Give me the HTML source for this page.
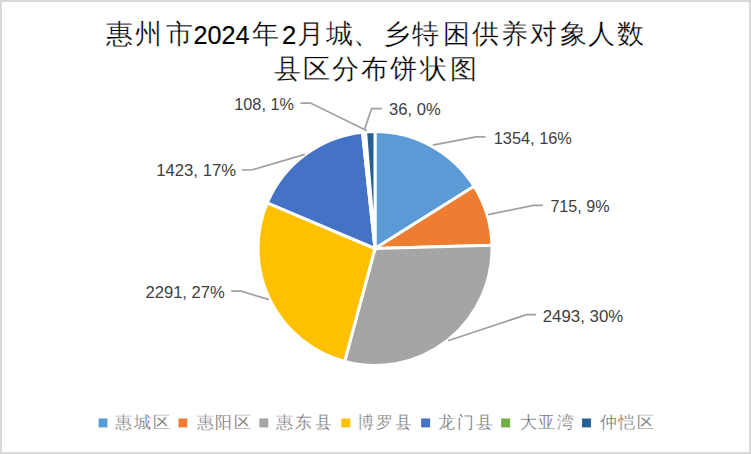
<!DOCTYPE html>
<html><head><meta charset="utf-8"><style>
html,body{margin:0;padding:0;background:#fff;}
svg{display:block;font-family:"Liberation Sans",sans-serif;}
</style></head><body>
<svg width="751" height="454" viewBox="0 0 751 454">
<rect x="0" y="0" width="751" height="454" fill="#fff"/>
<rect x="1" y="1" width="749" height="452" fill="none" stroke="#d9d9d9" stroke-width="2"/>
<g fill="#000" font-size="26.5" stroke="#fff" stroke-width="0.3">
<text x="106.3" y="42.6">惠</text>
<text x="134.8" y="42.6">州</text>
<text x="165.6" y="42.6">市</text>
<text x="252.4" y="42.6">年</text>
<text x="297.1" y="42.6">月</text>
<text x="326.1" y="42.6">城</text>
<text x="353.4" y="42.6">、</text>
<text x="382.6" y="42.6">乡</text>
<text x="412.4" y="42.6">特</text>
<text x="443.0" y="42.6">困</text>
<text x="471.6" y="42.6">供</text>
<text x="501.0" y="42.6">养</text>
<text x="529.6" y="42.6">对</text>
<text x="559.8" y="42.6">象</text>
<text x="588.4" y="42.6">人</text>
<text x="617.1" y="42.6">数</text>
<text x="273.5" y="77.6">县</text>
<text x="302.5" y="77.6">区</text>
<text x="332.0" y="77.6">分</text>
<text x="361.0" y="77.6">布</text>
<text x="390.0" y="77.6">饼</text>
<text x="420.0" y="77.6">状</text>
<text x="450.0" y="77.6">图</text>
</g>
<g fill="#000" font-size="25.6" stroke="#000" stroke-width="0.15">
<text x="193.4" y="43.5" textLength="56" lengthAdjust="spacingAndGlyphs">2024</text>
<text x="282" y="43.5">2</text>
</g>
<g stroke="#fff" stroke-width="3.0" stroke-linejoin="miter">
<path d="M375.0,248.5 L375.00,131.50 A117.0,117.0 0 0 1 474.10,186.31 Z" fill="#5B9BD5"/>
<path d="M375.0,248.5 L474.10,186.31 A117.0,117.0 0 0 1 491.96,245.36 Z" fill="#ED7D31"/>
<path d="M375.0,248.5 L491.96,245.36 A117.0,117.0 0 0 1 344.62,361.49 Z" fill="#A5A5A5"/>
<path d="M375.0,248.5 L344.62,361.49 A117.0,117.0 0 0 1 267.30,202.78 Z" fill="#FFC000"/>
<path d="M375.0,248.5 L267.30,202.78 A117.0,117.0 0 0 1 362.45,132.17 Z" fill="#4472C4"/>
<path d="M375.0,248.5 L362.45,132.17 A117.0,117.0 0 0 1 365.58,131.88 Z" fill="#70AD47"/>
<path d="M375.0,248.5 L365.58,131.88 A117.0,117.0 0 0 1 375.00,131.50 Z" fill="#255E91"/>
</g>
<g fill="none" stroke="#a0a0a0" stroke-width="1.7">
<polyline points="485.5,136.9 475.9,136.9 432.8,145.2"/>
<polyline points="542.8,205.3 533.2,205.3 488.0,214.7"/>
<polyline points="535.9,314.6 526.5,314.6 448.0,340.7"/>
<polyline points="231.2,291.2 241.0,291.2 268.9,299.6"/>
<polyline points="241.6,170.0 251.5,170.0 304.8,154.4"/>
<polyline points="300.5,103.1 310.5,103.1 367.0,130.8"/>
<polyline points="382.2,108.6 371.6,108.6 364.4,129.6"/>
</g>
<g fill="#404040" font-size="16.5">
<text x="493.7" y="144.0" textLength="78.2" lengthAdjust="spacingAndGlyphs">1354, 16%</text>
<text x="550.4" y="211.8" textLength="59.1" lengthAdjust="spacingAndGlyphs">715, 9%</text>
<text x="542.7" y="322.0" textLength="80.6" lengthAdjust="spacingAndGlyphs">2493, 30%</text>
<text x="145.4" y="298.0" textLength="79.5" lengthAdjust="spacingAndGlyphs">2291, 27%</text>
<text x="156.2" y="176.0" textLength="79.9" lengthAdjust="spacingAndGlyphs">1423, 17%</text>
<text x="234.3" y="110.1" textLength="59.6" lengthAdjust="spacingAndGlyphs">108, 1%</text>
<text x="389.1" y="114.7" textLength="51.6" lengthAdjust="spacingAndGlyphs">36, 0%</text>
</g>
<g fill="#555" font-size="16.7" stroke="#fff" stroke-width="0.35">
<rect x="98.4" y="418.2" width="9.2" height="9.4" fill="#5B9BD5"/>
<text x="115.2" y="428" textLength="54.6" lengthAdjust="spacing">惠城区</text>
<rect x="178.2" y="418.2" width="9.2" height="9.4" fill="#ED7D31"/>
<text x="196.7" y="428" textLength="53.9" lengthAdjust="spacing">惠阳区</text>
<rect x="259.1" y="418.2" width="9.2" height="9.4" fill="#A5A5A5"/>
<text x="276.4" y="428" textLength="55.1" lengthAdjust="spacing">惠东县</text>
<rect x="341.1" y="418.2" width="9.2" height="9.4" fill="#FFC000"/>
<text x="357.4" y="428" textLength="54.8" lengthAdjust="spacing">博罗县</text>
<rect x="421.0" y="418.2" width="9.2" height="9.4" fill="#4472C4"/>
<text x="437.8" y="428" textLength="54.7" lengthAdjust="spacing">龙门县</text>
<rect x="501.0" y="418.2" width="9.2" height="9.4" fill="#70AD47"/>
<text x="519.5" y="428" textLength="54.0" lengthAdjust="spacing">大亚湾</text>
<rect x="581.9" y="418.2" width="9.2" height="9.4" fill="#255E91"/>
<text x="599.8" y="428" textLength="54.0" lengthAdjust="spacing">仲恺区</text>
</g>
</svg>
</body></html>
